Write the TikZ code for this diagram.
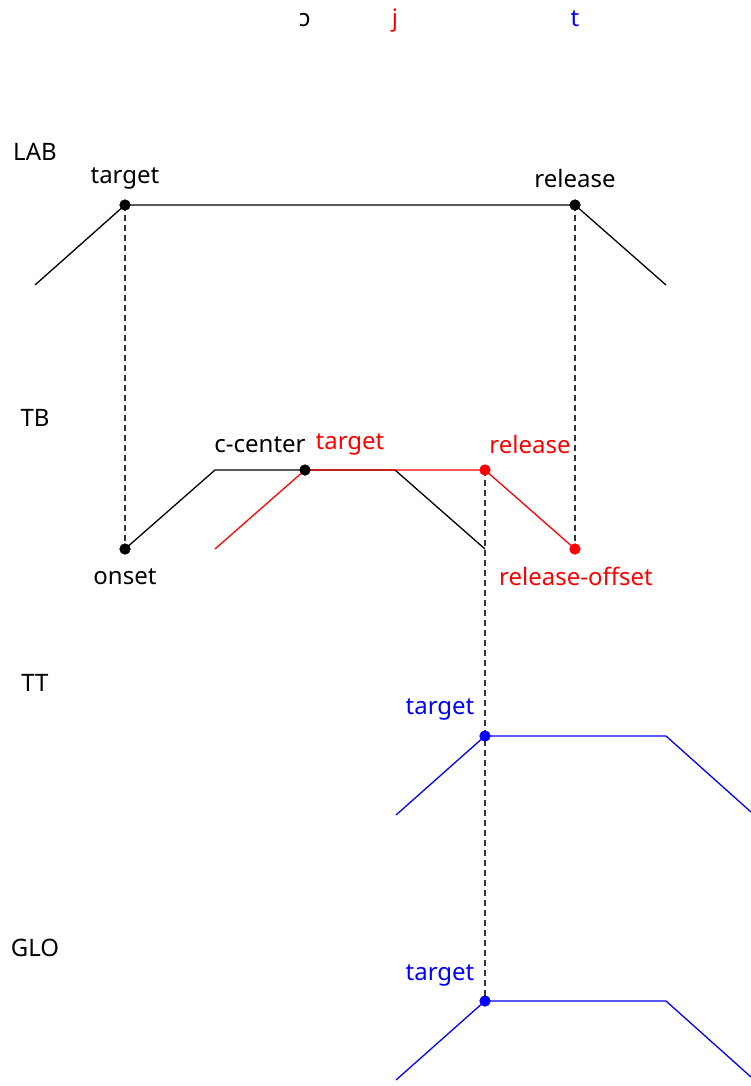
\documentclass[tikz,border=0pt]{standalone}
\usepackage{fontspec}
\setmainfont{Noto Sans}
\definecolor{myred}{RGB}{255,0,0}
\definecolor{myblue}{RGB}{0,0,255}
\begin{document}
\begin{tikzpicture}[x=1pt,y=-1pt,
  lbl/.style={font=\fontsize{24}{28}\selectfont, inner sep=0pt, anchor=base},
  dot/.style={circle, fill, inner sep=0pt, minimum size=11pt},
  traj/.style={line width=1.3pt},
  guide/.style={line width=1.2pt, dash pattern=on 6pt off 4pt, black!80}]
\useasboundingbox (0,0) rectangle (751,1086);
% top segments
\node[lbl] (so) at (305,27) {ɔ};
\node[lbl, text=myred] (sj) at (395,27) {j};
\node[lbl, text=myblue] (st) at (575,27) {t};
% tier labels
\node[lbl] (lab) at (35,161) {LAB};
\node[lbl] (tb) at (35,426) {TB};
\node[lbl] (tt) at (35,691) {TT};
\node[lbl] (glo) at (35,956) {GLO};
% LAB tier
\coordinate (l0) at (35,285);
\coordinate (l3) at (666,285);
\node[dot] (ltar) at (125,205) {};
\node[dot] (lrel) at (575,205) {};
% TB tier
\node[dot] (onset) at (125,549) {};
\coordinate (b1) at (215,470);
\coordinate (b2) at (395,470);
\coordinate (b3) at (485,549);
\coordinate (r0) at (215,549);
\node[dot, fill=myred] (rrel) at (485,470) {};
\node[dot, fill=myred] (roff) at (575,549) {};
% TT tier
\coordinate (t0) at (396,815);
\node[dot, fill=myblue] (ttar) at (485,736) {};
\coordinate (t2) at (666,736);
\coordinate (t3) at (751,812);
% GLO tier
\coordinate (g0) at (396,1080);
\node[dot, fill=myblue] (gtar) at (485,1001) {};
\coordinate (g2) at (666,1001);
\coordinate (g3) at (751,1077);
% dashed guides
\draw[guide] (ltar.center) -- (onset.center);
\draw[guide] (lrel.center) -- (roff.center);
\draw[guide] (rrel.center) -- (gtar.center);
% trajectories
\draw[traj] (l0) -- (ltar.center) -- (lrel.center) -- (l3);
\draw[traj] (onset.center) -- (b1) -- (b2) -- (b3);
\node[dot] (cc) at (305,470) {};
\draw[traj, myred] (r0) -- (cc.center) -- (rrel.center) -- (roff.center);
\node[dot] at (cc) {};
\node[dot, fill=myred] at (rrel) {};
\node[dot, fill=myred] at (roff) {};
\draw[traj, myblue] (t0) -- (ttar.center) -- (t2) -- (t3);
\draw[traj, myblue] (g0) -- (gtar.center) -- (g2) -- (g3);
\node[dot, fill=myblue] at (ttar) {};
\node[dot, fill=myblue] at (gtar) {};
\node[dot] at (ltar) {};
\node[dot] at (lrel) {};
\node[dot] at (onset) {};
% point labels
\node[lbl] (ltarl) at (125,184) {target};
\node[lbl] (lrell) at (575,188) {release};
\node[lbl] (onsetl) at (125,584) {onset};
\node[lbl] (ccl) at (260,452) {c-center};
\node[lbl, text=myred] (rtarl) at (350,449) {target};
\node[lbl, text=myred] (rrell) at (530,453) {release};
\node[lbl, text=myred] (roffl) at (576,585) {release-offset};
\node[lbl, text=myblue] (ttarl) at (440,714) {target};
\node[lbl, text=myblue] (gtarl) at (440,980) {target};
\end{tikzpicture}
\end{document}
